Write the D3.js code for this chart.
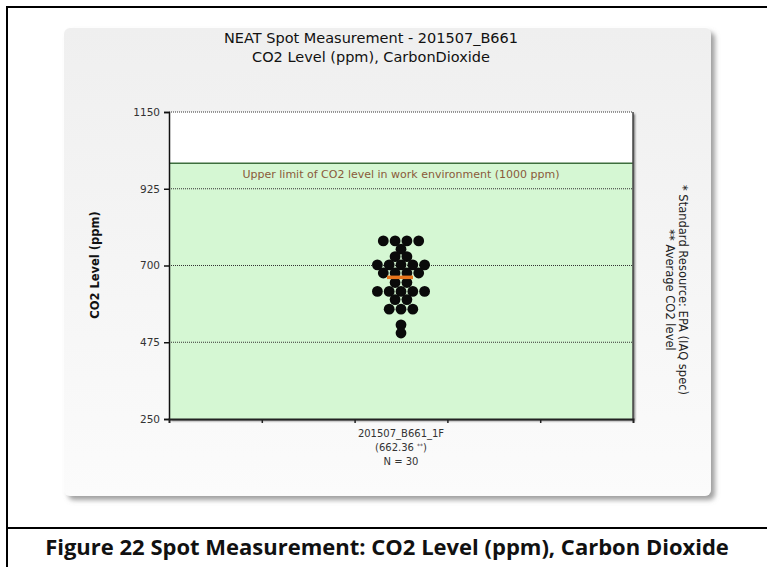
<!DOCTYPE html>
<html>
<head>
<meta charset="utf-8">
<title>NEAT Spot Measurement - CO2</title>
<script src="https://cdn.jsdelivr.net/npm/d3@7/dist/d3.min.js"></script>
<style>
  body { margin: 0; background: #fff; }
  svg text { font-family: "DejaVu Sans", Verdana, sans-serif; }
</style>
</head>
<body>
<div id="chart"></div>
<script>
// ---- data ----
var titleLines = ["NEAT Spot Measurement - 201507_B661", "CO2 Level (ppm), CarbonDioxide"];
var yTicks = [250, 475, 700, 925, 1150];
var categories = ["201507_B661_1F"];
var averages = [662.36];
var counts = [30];
var limitValue = 1000;
var limitLabel = "Upper limit of CO2 level in work environment (1000 ppm)";
var notes = ["* Standard Resource: EPA (IAQ spec)", "** Average CO2 level"];
var caption = "Figure 22 Spot Measurement: CO2 Level (ppm), Carbon Dioxide";
// 30 spot readings (ppm), one per dot
var readings = [
  772, 772, 772, 772,
  748,
  726, 726,
  702, 702, 702, 702, 702,
  678, 678, 678, 678,
  650, 650,
  624, 624, 624, 624, 624,
  600, 600,
  572, 572, 572,
  526,
  502
];

var width = 767, height = 567;

var svg = d3.select("#chart")
  .append("svg")
    .attr("width", width)
    .attr("height", height);

var defs = svg.append("defs");
var grad = defs.append("linearGradient")
  .attr("id", "panelGrad").attr("x1", 0).attr("y1", 0).attr("x2", 0).attr("y2", 1);
grad.append("stop").attr("offset", "0%").attr("stop-color", "#efefef");
grad.append("stop").attr("offset", "100%").attr("stop-color", "#fbfbfb");

var shadow = defs.append("filter").attr("id", "shadow")
  .attr("x", "-5%").attr("y", "-5%").attr("width", "115%").attr("height", "115%");
shadow.append("feDropShadow")
  .attr("dx", 4).attr("dy", 4).attr("stdDeviation", 2.5)
  .attr("flood-color", "#888").attr("flood-opacity", 0.8);

var plotShadow = defs.append("filter").attr("id", "plotShadow")
  .attr("x", "-5%").attr("y", "-5%").attr("width", "110%").attr("height", "110%");
plotShadow.append("feDropShadow")
  .attr("dx", 2).attr("dy", 2).attr("stdDeviation", 0.8)
  .attr("flood-color", "#555").attr("flood-opacity", 0.8);

// figure table borders
svg.append("line").attr("x1", 7).attr("x2", 7).attr("y1", 6).attr("y2", height)
  .attr("stroke", "#000").attr("stroke-width", 2);
svg.append("line").attr("x1", 6).attr("x2", width).attr("y1", 7).attr("y2", 7)
  .attr("stroke", "#000").attr("stroke-width", 2);
svg.append("line").attr("x1", 6).attr("x2", width).attr("y1", 528).attr("y2", 528)
  .attr("stroke", "#000").attr("stroke-width", 2);

// gray chart panel
svg.append("rect")
  .attr("x", 64).attr("y", 28).attr("width", 647).attr("height", 468)
  .attr("rx", 6)
  .attr("fill", "url(#panelGrad)")
  .attr("filter", "url(#shadow)");

// titles
svg.selectAll(".title")
  .data(titleLines)
  .enter()
  .append("text")
    .attr("class", "title")
    .attr("x", 371)
    .attr("y", function(d, i) { return 43 + i * 19; })
    .attr("text-anchor", "middle")
    .style("font-size", "14.5px")
    .attr("fill", "#111")
    .text(function(d) { return d; });

// scales
var margin = {left: 169, right: 633, top: 112, bottom: 419};
var y = d3.scaleLinear().domain([250, 1150]).range([margin.bottom, margin.top]);
var x = d3.scaleBand().domain(categories).range([margin.left, margin.right]);

var plot = svg.append("g");

// plot background: white above the limit, green below
plot.append("rect")
  .attr("x", margin.left).attr("y", margin.top)
  .attr("width", margin.right - margin.left).attr("height", margin.bottom - margin.top)
  .attr("fill", "#fff")
  .attr("filter", "url(#plotShadow)");
plot.append("rect")
  .attr("x", margin.left).attr("y", y(limitValue))
  .attr("width", margin.right - margin.left).attr("height", y(250) - y(limitValue))
  .attr("fill", "#d5f7d3");
plot.append("line")
  .attr("x1", margin.left).attr("x2", margin.right)
  .attr("y1", y(limitValue)).attr("y2", y(limitValue))
  .attr("stroke", "#3d6e3d").attr("stroke-width", 1.5);
plot.append("text")
  .attr("x", (margin.left + margin.right) / 2)
  .attr("y", y(limitValue) + 15)
  .attr("text-anchor", "middle")
  .style("font-size", "11px")
  .attr("fill", "#8a5a3a")
  .text(limitLabel);

// dotted gridlines
plot.selectAll(".grid")
  .data(yTicks.filter(function(d) { return d > 250; }))
  .enter()
  .append("line")
    .attr("x1", margin.left).attr("x2", margin.right)
    .attr("y1", function(d) { return y(d); })
    .attr("y2", function(d) { return y(d); })
    .attr("stroke", "#333")
    .attr("stroke-width", 1)
    .attr("stroke-dasharray", "1,1");

// right frame
plot.append("line")
  .attr("x1", margin.right).attr("x2", margin.right)
  .attr("y1", margin.top).attr("y2", margin.bottom)
  .attr("stroke", "#444").attr("stroke-width", 1.5);

// y axis
var yAxis = d3.axisLeft(y).tickValues(yTicks).tickSize(5).tickPadding(4).tickFormat(d3.format("d"));
var yg = svg.append("g")
  .attr("transform", "translate(" + margin.left + ",0)")
  .call(yAxis);
yg.select(".domain").attr("stroke", "#111").attr("stroke-width", 1.5);
yg.selectAll(".tick line").attr("stroke", "#111").attr("stroke-width", 1.5);
yg.selectAll(".tick text")
  .style("font-family", "'DejaVu Sans', sans-serif")
  .style("font-size", "10.5px")
  .attr("fill", "#333");

// x axis: minor ticks dividing the width into fifths
var xLin = d3.scaleLinear().domain([0, 5]).range([margin.left, margin.right]);
var xAxis = d3.axisBottom(xLin).tickValues([1, 2, 3, 4]).tickSize(4).tickFormat("");
var xg = svg.append("g")
  .attr("transform", "translate(0," + margin.bottom + ")")
  .call(xAxis);
xg.select(".domain").attr("stroke", "#222").attr("stroke-width", 2);
xg.selectAll(".tick line").attr("stroke", "#222").attr("stroke-width", 1.5);

// category labels
categories.forEach(function(c, k) {
  var cx = x(c) + x.bandwidth() / 2;
  var g = svg.append("g").attr("fill", "#333").style("font-size", "10px");
  g.append("text").attr("x", cx).attr("y", 437).attr("text-anchor", "middle").text(c);
  var t = g.append("text").attr("x", cx).attr("y", 451).attr("text-anchor", "middle");
  t.append("tspan").text("(" + averages[k] + " ");
  t.append("tspan").attr("dy", -3).style("font-size", "6px").text("**");
  t.append("tspan").attr("dy", 3).text(")");
  g.append("text").attr("x", cx).attr("y", 465).attr("text-anchor", "middle").text("N = " + counts[k]);
});

// beeswarm dots: readings with the same value share a row
var step = 11.8, r = 5.4;
var rows = d3.groups(readings, function(d) { return d; });
var dots = [];
rows.forEach(function(row) {
  var n = row[1].length;
  row[1].forEach(function(v, i) {
    dots.push({value: v, offset: (i - (n - 1) / 2) * step});
  });
});
var cx0 = x(categories[0]) + x.bandwidth() / 2;

plot.selectAll(".dot")
  .data(dots)
  .enter()
  .append("circle")
    .attr("class", "dot")
    .attr("cx", function(d) { return cx0 + d.offset; })
    .attr("cy", function(d) { return y(d.value); })
    .attr("r", r)
    .attr("fill", "#0a0a0a");

// average line across the dots
plot.append("line")
  .attr("x1", cx0 - 14).attr("x2", cx0 + 12)
  .attr("y1", y(averages[0]) - 1).attr("y2", y(averages[0]) - 1)
  .attr("stroke", "#e8741c").attr("stroke-width", 3.5);

// y axis title
svg.append("text")
  .attr("transform", "translate(99,265) rotate(-90)")
  .attr("text-anchor", "middle")
  .style("font-size", "11.5px")
  .style("font-weight", "bold")
  .attr("fill", "#111")
  .text("CO2 Level (ppm)");

// right-side notes
svg.selectAll(".note")
  .data(notes)
  .enter()
  .append("text")
    .attr("class", "note")
    .attr("transform", function(d, i) { return "translate(" + (679 - i * 13) + ",290) rotate(90)"; })
    .attr("text-anchor", "middle")
    .style("font-size", "11.5px")
    .attr("fill", "#222")
    .text(function(d) { return d; });

// figure caption
svg.append("text")
  .attr("x", 387)
  .attr("y", 555)
  .attr("text-anchor", "middle")
  .style("font-family", "'Open Sans', Lato, sans-serif")
  .style("font-size", "22px")
  .style("font-weight", "bold")
  .attr("fill", "#111")
  .text(caption);
</script>
</body>
</html>
